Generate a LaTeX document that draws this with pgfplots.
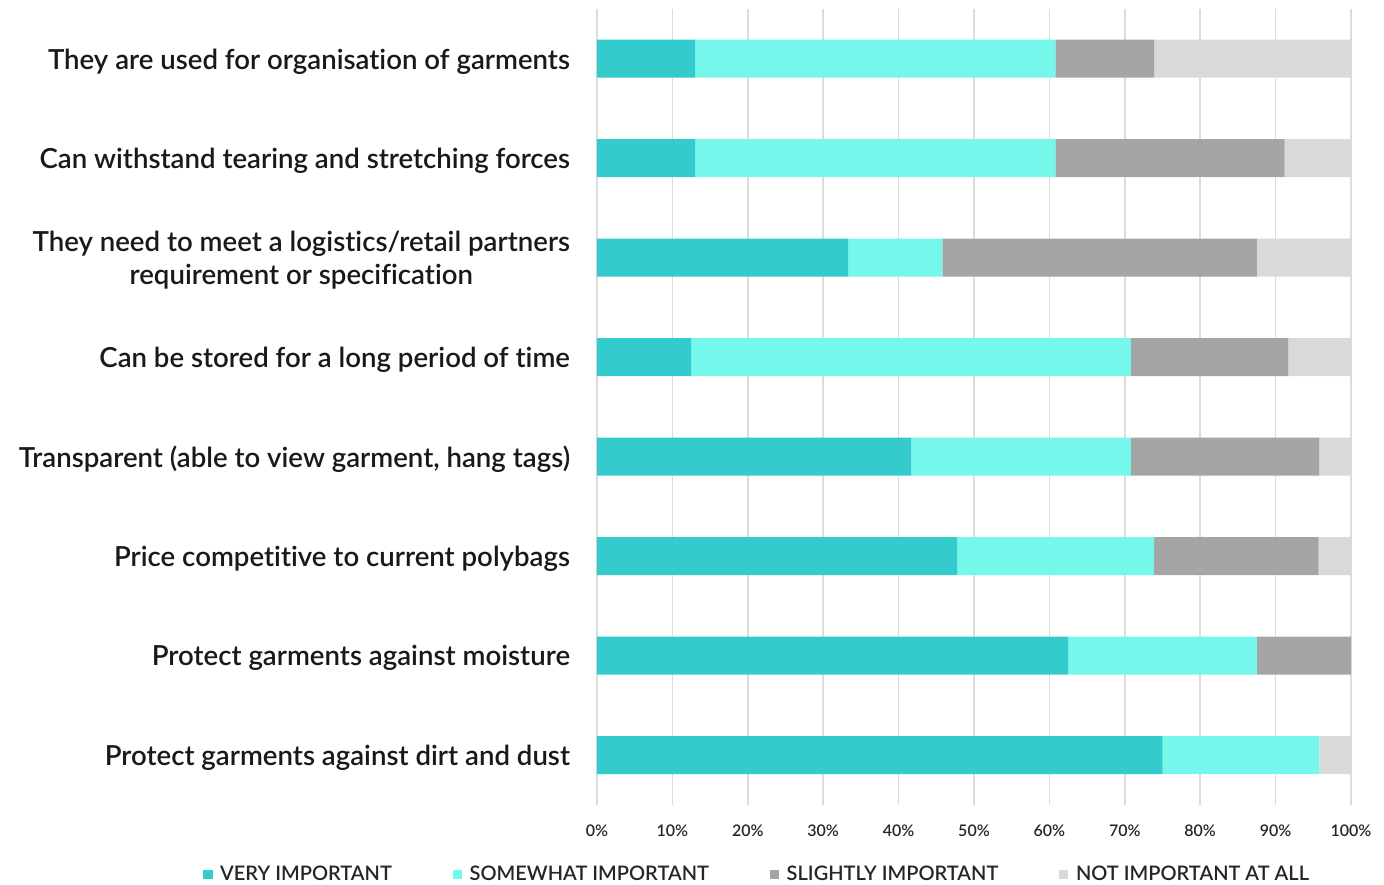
\documentclass[border=0pt]{standalone}
\usepackage{fontspec}
\setmainfont{Lato}[Ligatures=NoCommon]
\newfontfamily\labfont{Lato Semibold}[Ligatures=NoCommon]
\usepackage{pgfplots}
\pgfplotsset{compat=1.18}
\definecolor{cvery}{HTML}{33CBCB}
\definecolor{csome}{HTML}{75F7EB}
\definecolor{cslight}{HTML}{A5A5A5}
\definecolor{cnot}{HTML}{D9D9D9}
\definecolor{cgrid}{HTML}{DCDCDC}
\begin{document}
\begin{tikzpicture}
\begin{axis}[
  name=ax,
  xbar stacked,
  scale only axis,
  width=377pt, height=398pt,
  xmin=0, xmax=100, ymin=0.5, ymax=8.5,
  bar width=19pt,
  axis line style={draw=none},
  major tick length=0pt,
  xtick={0,10,...,100},
  xmajorgrids,
  grid style={cgrid, line width=0.8pt},
  xticklabel={\pgfmathprintnumber{\tick}\%},
  /pgf/number format/assume math mode=true,
  xticklabel style={font=\labfont\fontsize{8}{9}\selectfont, color=black!85, yshift=-6.5pt},
  ytick={1,...,8},
  yticklabels={Protect garments against dirt and dust,
    Protect garments against moisture,
    Price competitive to current polybags,
    {Transparent (able to view garment, hang tags)},
    Can be stored for a long period of time,
    {They need to meet a logistics/retail partners\\requirement or specification},
    Can withstand tearing and stretching forces,
    They are used for organisation of garments},
  yticklabel style={font=\labfont\fontsize{13.8}{16.5}\selectfont, align=center, color=black!90, xshift=-10pt, yshift=-1.3pt},
  legend columns=4,
  legend style={at={(-0.5225,-0.0873)}, anchor=west, draw=none, fill=none,
    font=\labfont\fontsize{10}{12}\selectfont, text=black!85,
    /tikz/every even column/.append style={column sep=28.5pt},
    inner sep=0pt},
  legend image code/.code={\fill[#1] (0pt,-2.3pt) rectangle (4.6pt,2.3pt); \path (6.4pt,0pt);},
  legend cell align=left,
]
\addplot[fill=cvery, draw=none] coordinates {(75.0,1) (62.5,2) (47.8,3) (41.7,4) (12.5,5) (33.3,6) (13.0,7) (13.0,8)};
\addplot[fill=csome, draw=none] coordinates {(20.8,1) (25.0,2) (26.1,3) (29.1,4) (58.3,5) (12.5,6) (47.8,7) (47.8,8)};
\addplot[fill=cslight, draw=none] coordinates {(0,1) (12.5,2) (21.8,3) (25.0,4) (20.9,5) (41.7,6) (30.4,7) (13.1,8)};
\addplot[fill=cnot, draw=none] coordinates {(4.2,1) (0,2) (4.3,3) (4.2,4) (8.3,5) (12.5,6) (8.8,7) (26.1,8)};
\legend{VERY IMPORTANT, SOMEWHAT IMPORTANT, SLIGHTLY IMPORTANT, NOT IMPORTANT AT ALL}
\end{axis}
\pgfresetboundingbox
\path[use as bounding box] ([xshift=-298.5pt,yshift=-40pt]ax.south west) rectangle ([xshift=16.5pt,yshift=4.5pt]ax.north east);
\end{tikzpicture}
\end{document}
